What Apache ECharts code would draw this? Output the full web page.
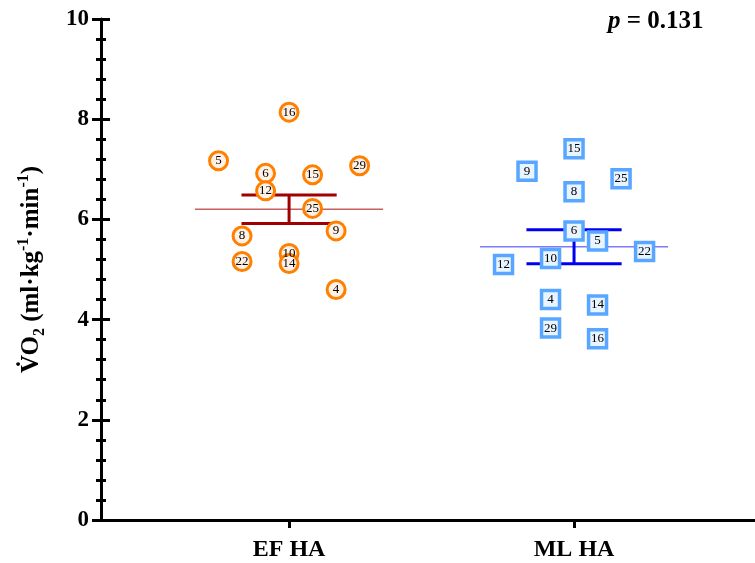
<!DOCTYPE html>
<html>
<head>
<meta charset="utf-8">
<script src="https://cdn.jsdelivr.net/npm/echarts@6/dist/echarts.min.js"></script>
<style>
  html, body { margin: 0; padding: 0; background: #fff; }
  #chart { width: 755px; height: 563px; }
</style>
</head>
<body>
<div id="chart"></div>
<script>
// Groups shown on the x axis
const groups = ['EF HA', 'ML HA'];

// EF HA subjects: id, VO2 value, horizontal jitter slot
const efIds = [16, 5, 6, 12, 15, 29, 25, 9, 8, 22, 10, 14, 4];
const efValues = [8.14, 7.17, 6.92, 6.57, 6.89, 7.07, 6.22, 5.77, 5.67, 5.16, 5.32, 5.12, 4.60];
const efSlots = [0, -3, -1, -1, 1, 3, 1, 2, -2, -2, 0, 0, 2];

// ML HA subjects: id, VO2 value, horizontal jitter slot
const mlIds = [15, 9, 25, 8, 6, 5, 22, 10, 12, 4, 14, 29, 16];
const mlValues = [7.41, 6.96, 6.81, 6.55, 5.77, 5.57, 5.36, 5.22, 5.10, 4.40, 4.29, 3.83, 3.62];
const mlSlots = [0, -2, 2, 0, 0, 1, 3, -1, -3, -1, 1, -1, 1];

// Y axis ticks and the test result
const yTicks = [0, 2, 4, 6, 8, 10];
const pLabel = 'p';
const pValue = '0.131';

const SLOT = 0.0825;      // jitter step in x units
const MEAN_HALF = 0.33;   // half width of the mean line
const CAP_HALF = 0.167;   // half width of SEM caps

function mean(a) { return a.reduce((s, v) => s + v, 0) / a.length; }
function sem(a) {
  const m = mean(a);
  const v = a.reduce((s, x) => s + (x - m) * (x - m), 0) / (a.length - 1);
  return Math.sqrt(v / a.length);
}

function points(ids, values, slots, gi) {
  return values.map((v, i) => [gi + 1 + slots[i] * SLOT, v, ids[i]]);
}

function summarySeries(values, gi, barColor, meanColor) {
  return {
    type: 'custom',
    z: 2,
    silent: true,
    data: [[gi + 1, mean(values), sem(values)]],
    renderItem: function (params, api) {
      const x = api.value(0), m = api.value(1), s = api.value(2);
      const seg = (x1, y1, x2, y2, color, w) => {
        const a = api.coord([x1, y1]), b = api.coord([x2, y2]);
        return { type: 'line', shape: { x1: a[0], y1: a[1], x2: b[0], y2: b[1] },
                 style: { stroke: color, lineWidth: w } };
      };
      return {
        type: 'group',
        children: [
          seg(x - MEAN_HALF, m, x + MEAN_HALF, m, meanColor, 1.5),
          seg(x - CAP_HALF, m + s, x + CAP_HALF, m + s, barColor, 3),
          seg(x - CAP_HALF, m - s, x + CAP_HALF, m - s, barColor, 3),
          seg(x, m - s, x, m + s, barColor, 3)
        ]
      };
    }
  };
}

const serif = '"Liberation Serif", "Times New Roman", serif';
const pointLabel = {
  show: true, position: 'inside', formatter: p => p.data[2],
  fontFamily: serif, fontSize: 13, color: '#000'
};

const chart = echarts.init(document.getElementById('chart'), null, { renderer: 'canvas' });

chart.setOption({
  animation: false,
  backgroundColor: '#fff',
  grid: { left: 101, right: 0, top: 19, bottom: 43, containLabel: false },
  xAxis: {
    type: 'value', min: 0.34, max: 2.635,
    splitLine: { show: false },
    axisLine: { show: true, onZero: false, lineStyle: { color: '#000', width: 3 } },
    axisTick: { show: true, customValues: [1, 2], length: 8, lineStyle: { color: '#000', width: 3 } },
    axisLabel: {
      customValues: [1, 2], margin: 18,
      formatter: v => groups[Math.round(v) - 1] || '',
      fontFamily: serif, fontSize: 24, fontWeight: 'bold', color: '#000'
    }
  },
  yAxis: [
    {
      type: 'value', min: 0, max: 10, interval: 2,
      splitLine: { show: false },
      axisLine: { show: true, lineStyle: { color: '#000', width: 3 } },
      axisTick: { show: true, length: 9, lineStyle: { color: '#000', width: 3 } },
      minorTick: { show: true, splitNumber: 5, length: 5, lineStyle: { color: '#000', width: 3 } },
      axisLabel: {
        margin: 12, fontFamily: serif, fontSize: 23, fontWeight: 'bold', color: '#000',
        formatter: v => (yTicks.indexOf(v) >= 0 ? String(v) : '')
      },
      name: '{v|V\u0307O}{sub|2}{v| (ml\u00b7kg}{sup|-1}{v|\u00b7min}{sup|-1}{v|)}',
      nameLocation: 'middle', nameRotate: 90, nameGap: 53,
      nameTextStyle: {
        fontFamily: serif, fontSize: 25, fontWeight: 'bold', color: '#000',
        rich: {
          v: { fontFamily: serif, fontSize: 25, fontWeight: 'bold', color: '#000', lineHeight: 32 },
          sub: { fontFamily: serif, fontSize: 16, fontWeight: 'bold', color: '#000', verticalAlign: 'bottom', lineHeight: 32 },
          sup: { fontFamily: serif, fontSize: 16, fontWeight: 'bold', color: '#000', verticalAlign: 'top', lineHeight: 32 }
        }
      }
    },
    {
      // inward half of the crossing ticks on the left axis
      type: 'value', min: 0, max: 10, interval: 2,
      position: 'right', offset: -654,
      splitLine: { show: false },
      axisLine: { show: false },
      axisLabel: { show: false },
      axisTick: { show: true, length: 9, lineStyle: { color: '#000', width: 3 } },
      minorTick: { show: true, splitNumber: 5, length: 5, lineStyle: { color: '#000', width: 3 } }
    }
  ],
  series: [
    summarySeries(efValues, 0, '#a00000', '#c86060'),
    summarySeries(mlValues, 1, '#0000ee', '#7a7aff'),
    {
      type: 'scatter', z: 5, symbol: 'circle', symbolSize: 18,
      data: points(efIds, efValues, efSlots, 0),
      itemStyle: { color: '#fff1e6', borderColor: '#ff8000', borderWidth: 3, opacity: 1 },
      label: pointLabel
    },
    {
      type: 'scatter', z: 5, symbol: 'rect', symbolSize: 18,
      data: points(mlIds, mlValues, mlSlots, 1),
      itemStyle: { color: '#e8f4ff', borderColor: '#58a6ff', borderWidth: 3.5, opacity: 1 },
      label: pointLabel
    }
  ],
  graphic: [
    {
      type: 'text', left: 608, top: 9,
      style: {
        text: '{i|' + pLabel + '}{b| = ' + pValue + '}',
        rich: {
          i: { fontFamily: serif, fontSize: 25, fontWeight: 'bold', fontStyle: 'italic', fill: '#000' },
          b: { fontFamily: serif, fontSize: 25, fontWeight: 'bold', fill: '#000' }
        }
      }
    }
  ]
});
</script>
</body>
</html>
